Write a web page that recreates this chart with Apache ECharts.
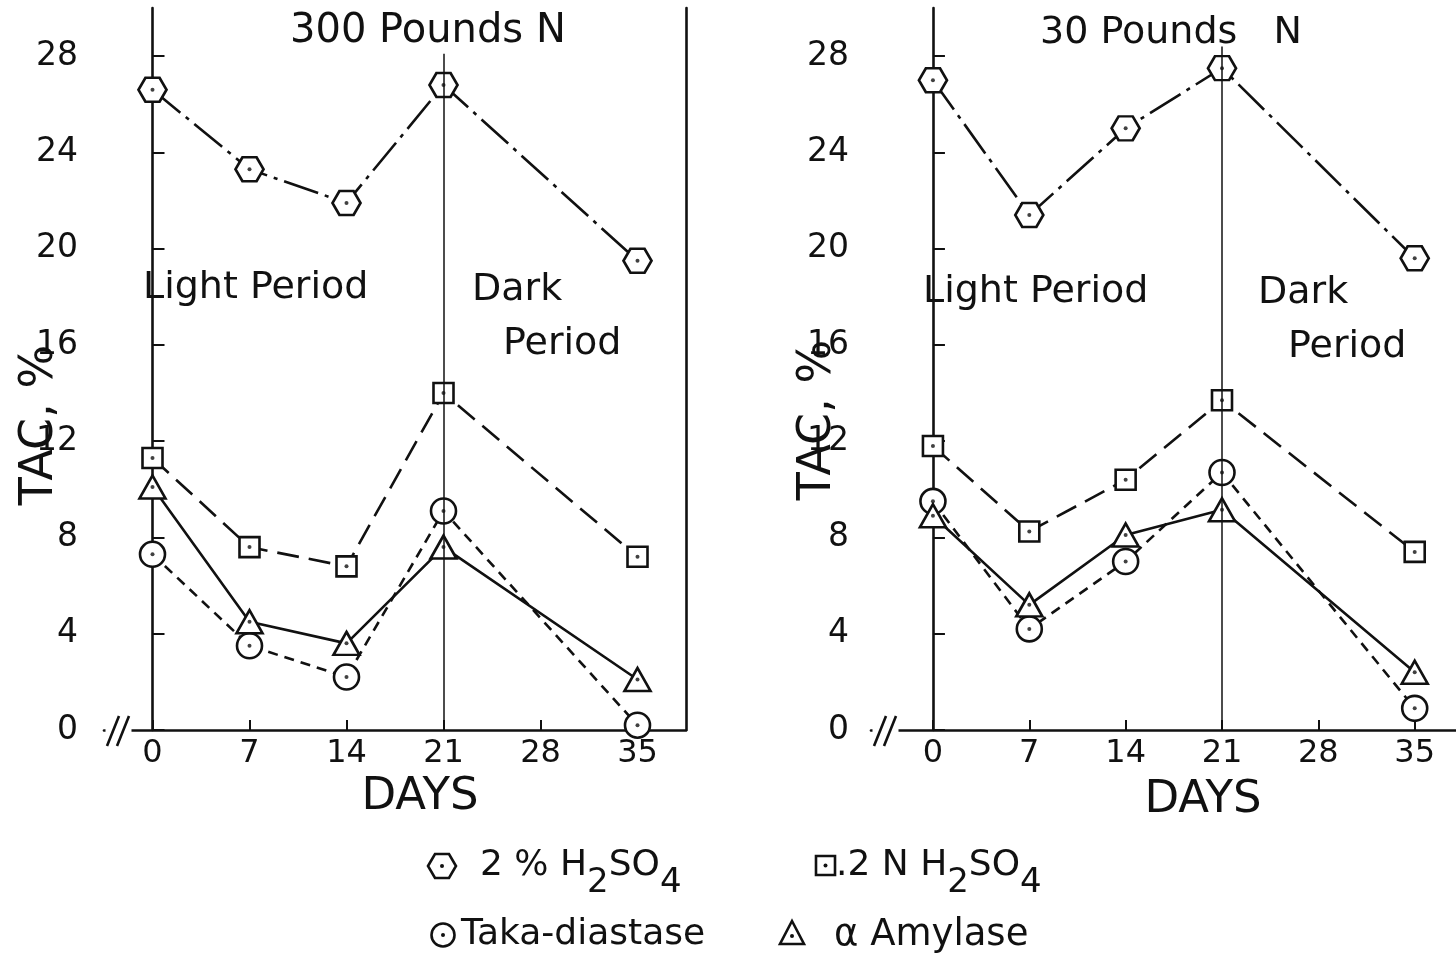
<!DOCTYPE html>
<html>
<head>
<meta charset="utf-8">
<script src="https://cdn.jsdelivr.net/npm/echarts@6/dist/echarts.min.js"></script>
<style>
  html, body { margin: 0; padding: 0; background: #fff; }
  #chart { width: 1456px; height: 955px; }
</style>
</head>
<body>
<div id="chart"></div>
<script>
// tick labels
var days = [0, 7, 14, 21, 28, 35];
var yTicks = [0, 4, 8, 12, 16, 20, 24, 28];
// sampling days
var sampleDays = [0, 7, 14, 21, 35];

// 300 Pounds N
var acid2_300 = [26.6, 23.3, 21.9, 26.8, 19.5];
var acidN_300 = [11.3, 7.6, 6.8, 14.0, 7.2];
var taka_300 = [7.3, 3.5, 2.2, 9.1, 0.2];
var amyl_300 = [10.1, 4.5, 3.6, 7.6, 2.1];

// 30 Pounds N
var acid2_30 = [27.0, 21.4, 25.0, 27.5, 19.6];
var acidN_30 = [11.8, 8.25, 10.4, 13.7, 7.4];
var taka_30 = [9.5, 4.2, 7.0, 10.7, 0.9];
var amyl_30 = [8.9, 5.2, 8.1, 9.15, 2.4];

// light / dark split line (day, top of line)
var splitDay = 21;
var splitTop = [28.1, 28.4];

var chart = echarts.init(document.getElementById('chart'));
var INK = '#111';
var FONT = '"DejaVu Sans", sans-serif';
var hexPath = 'path://M0,10L5,0L15,0L20,10L15,20L5,20Z';

function pairs(ys) {
  var out = [];
  for (var i = 0; i < sampleDays.length; i++) {
    out.push([sampleDays[i], ys[i]]);
  }
  return out;
}

function lineSeries(name, ys, g, symbol, size, dash) {
  return {
    name: name,
    type: 'line',
    xAxisIndex: g,
    yAxisIndex: g * 2,
    data: pairs(ys),
    symbol: symbol,
    symbolSize: size,
    showAllSymbol: true,
    itemStyle: { color: '#fff', borderColor: INK, borderWidth: 2.6 },
    lineStyle: { color: INK, width: 2.6, type: dash },
    emphasis: { disabled: true },
    z: 3
  };
}

//中心的点
function dotSeries(ys, g) {
  return {
    type: 'scatter',
    xAxisIndex: g,
    yAxisIndex: g * 2,
    data: pairs(ys),
    symbolSize: 4,
    itemStyle: { color: INK },
    silent: true,
    z: 6
  };
}

function xAxisCfg(g, min, max) {
  return {
    type: 'value', gridIndex: g, min: min, max: max,
    axisLine: { lineStyle: { color: INK, width: 2.6 } },
    axisTick: { inside: true, length: 10, customValues: days, lineStyle: { color: INK, width: 2 } },
    axisLabel: { customValues: days, color: INK, fontSize: 32, fontFamily: FONT, margin: 8 },
    splitLine: { show: false }
  };
}

function yAxisCfg(g, margin) {
  return {
    type: 'value', gridIndex: g, min: 0, max: 30,
    axisLine: { show: true, lineStyle: { color: INK, width: 2.6 } },
    axisTick: { inside: true, length: 12, customValues: yTicks, lineStyle: { color: INK, width: 2 } },
    axisLabel: { customValues: yTicks, color: INK, fontSize: 33, fontFamily: FONT, margin: margin },
    splitLine: { show: false }
  };
}

function panelSeries(g, a2, aN, tk, am) {
  var hex = lineSeries('2 % H2SO4', a2, g, hexPath, [28, 24], [36, 7, 4, 7]);
  hex.markLine = {
    symbol: 'none',
    silent: true,
    label: { show: false },
    lineStyle: { color: INK, width: 1.5, type: 'solid' },
    data: [[{ coord: [splitDay, 0] }, { coord: [splitDay, splitTop[g]] }]]
  };
  return [
    hex,
    lineSeries('.2 N H2SO4', aN, g, 'rect', 20, [22, 10]),
    lineSeries('Taka-diastase', tk, g, 'circle', 25, [10, 7]),
    lineSeries('Amylase', am, g, 'triangle', [26, 23], 'solid'),
    dotSeries(a2, g), dotSeries(aN, g), dotSeries(tk, g), dotSeries(am, g)
  ];
}

function txt(x, y, s, size, align, rot) {
  return {
    type: 'text', x: x, y: y, z: 50, rotation: rot || 0,
    style: { text: s, fill: INK, fontSize: size, fontFamily: FONT, align: align || 'left', verticalAlign: 'middle' }
  };
}

function subText(x, y, s) {
  return {
    type: 'text', x: x, y: y, z: 50,
    style: {
      text: s, fill: INK, fontFamily: FONT, fontSize: 36, align: 'left', verticalAlign: 'middle',
      rich: {
        a: { fontSize: 36, fontFamily: FONT, fill: INK },
        s: { fontSize: 34, fontFamily: FONT, fill: INK, padding: [34, 0, 0, 0] }
      }
    }
  };
}

// 坐标轴断开符号
function breakMark(x) {
  return [
    { type: 'rect', z: 40, shape: { x: x - 1.5, y: 722, width: 26, height: 14 }, style: { fill: '#fff' } },
    { type: 'line', z: 41, shape: { x1: x, y1: 746, x2: x + 12, y2: 716 }, style: { stroke: INK, lineWidth: 2.6 } },
    { type: 'line', z: 41, shape: { x1: x + 10, y1: 746, x2: x + 22, y2: 716 }, style: { stroke: INK, lineWidth: 2.6 } }
  ];
}

var dot = function (x, y) {
  return { type: 'circle', z: 51, shape: { cx: x, cy: y, r: 2 }, style: { fill: INK } };
};
var markStyle = { fill: '#fff', stroke: INK, lineWidth: 2.6 };

var graphics = [
  txt(290, 32, '300 Pounds N', 40),
  txt(143, 288, 'Light Period', 38),
  txt(472, 290, 'Dark', 38),
  txt(503, 344, 'Period', 38),
  txt(1040, 33, '30 Pounds   N', 38),
  txt(923, 292, 'Light Period', 38),
  txt(1258, 293, 'Dark', 38),
  txt(1288, 347, 'Period', 38),
  txt(40, 425, 'TAC, %', 46, 'center', Math.PI / 2),
  txt(818, 420, 'TAC, %', 46, 'center', Math.PI / 2),
  txt(420, 797, 'DAYS', 45, 'center'),
  txt(1203, 800, 'DAYS', 45, 'center'),
  // 图例
  { type: 'polygon', z: 50, shape: { points: [[428, 866], [435, 854], [449, 854], [456, 866], [449, 878], [435, 878]] }, style: markStyle },
  dot(442, 866),
  subText(480, 866, '{a|2 % H}{s|2}{a|SO}{s|4}'),
  { type: 'rect', z: 50, shape: { x: 816, y: 856, width: 19, height: 19 }, style: markStyle },
  dot(825.5, 865.5),
  subText(836, 866, '{a|.2 N H}{s|2}{a|SO}{s|4}'),
  { type: 'circle', z: 50, shape: { cx: 443, cy: 935, r: 11.5 }, style: markStyle },
  dot(443, 935),
  txt(461, 935, 'Taka-diastase', 36),
  { type: 'polygon', z: 50, shape: { points: [[792, 921], [804, 944], [780, 944]] }, style: markStyle },
  dot(792, 936),
  txt(834, 935, 'α Amylase', 37)
];
graphics = graphics.concat(breakMark(107), breakMark(874));

var option = {
  animation: false,
  backgroundColor: '#fff',
  grid: [
    { left: 104, top: 8, width: 582, height: 722 },
    { left: 871, top: 8, width: 589, height: 722 }
  ],
  xAxis: [xAxisCfg(0, -3.5, 38.5), xAxisCfg(1, -4.5, 38)],
  yAxis: [
    yAxisCfg(0, 26),
    {
      type: 'value', gridIndex: 0, position: 'right', min: 0, max: 30,
      axisLine: { show: true, lineStyle: { color: INK, width: 2.6 } },
      axisTick: { show: false }, axisLabel: { show: false }, splitLine: { show: false }
    },
    yAxisCfg(1, 22)
  ],
  series: [].concat(
    panelSeries(0, acid2_300, acidN_300, taka_300, amyl_300),
    panelSeries(1, acid2_30, acidN_30, taka_30, amyl_30)
  ),
  graphic: graphics
};

chart.setOption(option);
</script>
</body>
</html>
